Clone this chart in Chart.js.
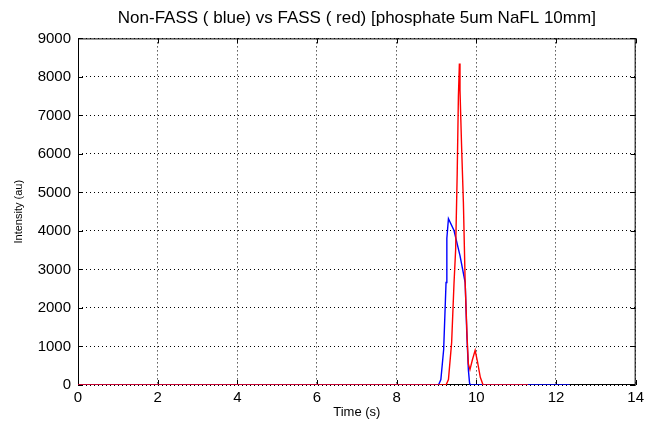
<!DOCTYPE html>
<html>
<head>
<meta charset="utf-8">
<script src="https://cdn.jsdelivr.net/npm/chart.js@4.4.1/dist/chart.umd.min.js"></script>
<style>
  html, body { margin: 0; padding: 0; background: #fff; }
  #wrap { width: 648px; height: 421px; }
</style>
</head>
<body>
<div id="wrap"><canvas id="chart"></canvas></div>
<script>
// --- data ---
const blueTime = [0, 9.05, 9.11, 9.18, 9.24, 9.26, 9.30, 9.44, 9.59, 9.72, 9.76, 9.80, 9.83, 9.85, 12.34];
const blueIntensity = [0, 0, 140, 920, 2660, 3810, 4320, 4010, 3360, 2660, 1360, 400, 50, 0, 0];

const redTime = [0, 9.24, 9.30, 9.38, 9.44, 9.48, 9.52, 9.55, 9.575, 9.59, 9.63, 9.675, 9.72, 9.77, 9.80, 9.84, 9.90, 9.97, 10.03, 10.10, 10.17, 11.3];
const redIntensity = [0, 0, 140, 1100, 2650, 3500, 5500, 7500, 8350, 7650, 6200, 4750, 2650, 1200, 550, 400, 650, 900, 600, 200, 0, 0];

const xTicks = [0, 2, 4, 6, 8, 10, 12, 14];
const yTicks = [0, 1000, 2000, 3000, 4000, 5000, 6000, 7000, 8000, 9000];

const toPoints = (xs, ys) => xs.map((x, i) => ({ x: x, y: ys[i] }));

// cadre + petites graduations vers l'intérieur (style matlab), sous les courbes
const boxPlugin = {
  id: 'box',
  beforeDatasetsDraw(chart) {
    const { ctx, chartArea: a, scales } = chart;
    ctx.save();
    ctx.strokeStyle = '#000';
    ctx.lineWidth = 1;
    ctx.setLineDash([]);
    ctx.strokeRect(a.left + 0.5, a.top + 0.5, a.right - a.left - 1, a.bottom - a.top - 1);
    const len = 5;
    ctx.beginPath();
    xTicks.forEach(v => {
      const px = Math.round(scales.x.getPixelForValue(v)) + 0.5;
      ctx.moveTo(px, a.bottom); ctx.lineTo(px, a.bottom - len);
      ctx.moveTo(px, a.top); ctx.lineTo(px, a.top + len);
    });
    yTicks.forEach(v => {
      const py = Math.round(scales.y.getPixelForValue(v)) + 0.5;
      ctx.moveTo(a.left, py); ctx.lineTo(a.left + len, py);
      ctx.moveTo(a.right, py); ctx.lineTo(a.right - len, py);
    });
    ctx.stroke();
    ctx.restore();
  }
};

const font = 'Liberation Sans, Arial, sans-serif';

new Chart(document.getElementById('chart'), {
  type: 'line',
  data: {
    datasets: [
      {
        label: 'FASS',
        data: toPoints(redTime, redIntensity),
        borderColor: 'rgb(255,0,0)',
        borderWidth: 1.4,
        pointRadius: 0,
        tension: 0,
        order: 0
      },
      {
        label: 'Non-FASS',
        data: toPoints(blueTime, blueIntensity),
        borderColor: 'rgb(0,0,255)',
        borderWidth: 1.4,
        pointRadius: 0,
        tension: 0,
        order: 1
      }
    ]
  },
  options: {
    responsive: true,
    maintainAspectRatio: false,
    animation: false,
    layout: { padding: { left: 0, right: 10, top: 0, bottom: 0 } },
    plugins: {
      legend: { display: false },
      tooltip: { enabled: false },
      title: {
        display: true,
        text: 'Non-FASS ( blue) vs FASS ( red) [phosphate 5um NaFL 10mm]',
        color: '#000',
        fullSize: false,
        font: { family: font, size: 17, weight: 'normal' },
        padding: { top: 8, bottom: 10 }
      }
    },
    scales: {
      x: {
        type: 'linear',
        min: 0,
        max: 14,
        afterBuildTicks: s => { s.ticks = xTicks.map(v => ({ value: v })); },
        afterFit: s => { s.height = 36; },
        ticks: { color: '#000', font: { family: font, size: 15 }, padding: 4, maxRotation: 0 },
        grid: { color: '#000', lineWidth: 1, drawTicks: false },
        border: { display: false, dash: [1, 3] },
        title: { display: true, text: 'Time (s)', color: '#000', font: { family: font, size: 13 }, padding: { top: 0, bottom: 1 } }
      },
      y: {
        min: 0,
        max: 9000,
        afterBuildTicks: s => { s.ticks = yTicks.map(v => ({ value: v })); },
        afterFit: s => { s.width = 78; },
        ticks: { color: '#000', font: { family: font, size: 15 }, padding: 7, callback: v => String(v) },
        grid: { color: '#000', lineWidth: 1, drawTicks: false },
        border: { display: false, dash: [1, 3] },
        title: { display: true, text: 'Intensity (au)', color: '#000', font: { family: font, size: 11 }, padding: { top: 12, bottom: 0 } }
      }
    }
  },
  plugins: [boxPlugin]
});
</script>
</body>
</html>
